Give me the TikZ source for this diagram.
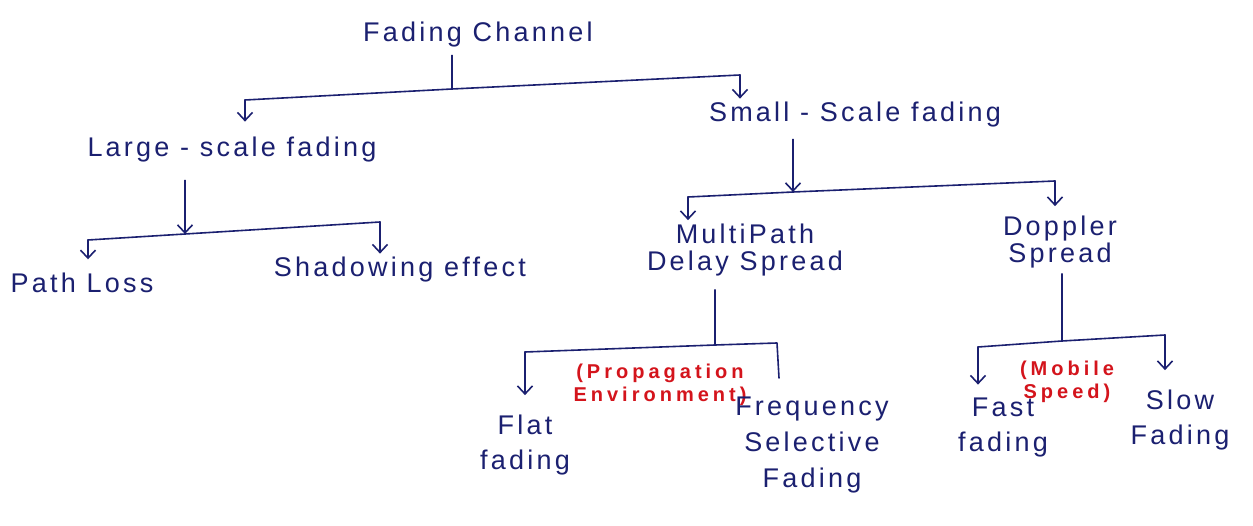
\documentclass[tikz,border=0pt]{standalone}
\usepackage{fontspec}
\setmainfont{Liberation Sans}
\newfontfamily\handfont[LetterSpace=12]{Liberation Sans}
\newfontfamily\notefont[LetterSpace=20]{Liberation Sans}
\usetikzlibrary{arrows.meta}
\definecolor{ink}{HTML}{1B2070}
\definecolor{redink}{HTML}{D4141C}
\begin{document}
\begin{tikzpicture}[x=1pt,y=-1pt,line width=1.6pt,draw=ink,
  lbl/.style={text=ink,font=\handfont\fontsize{27}{34}\selectfont,align=center,inner sep=3pt},
  note/.style={text=redink,font=\notefont\fontsize{20}{23}\selectfont\bfseries,align=center,inner sep=1pt},
  tip/.style={-{Straight Barb[length=8pt,width=15pt]},line cap=round},
  link/.style={line cap=round,line join=round}]
\useasboundingbox[fill=white] (0,0) rectangle (1253,526);

% nodes
\node[lbl] (fc)   at (478,35)  {Fading Channel};
\node[lbl] (lsf)  at (232,150) {Large - scale fading};
\node[lbl] (ssf)  at (855,115) {Small - Scale fading};
\node[lbl] (pl)   at (82,283)  {Path Loss};
\node[lbl] (sh)   at (400,270) {Shadowing effect};
\node[lbl,font=\handfont\fontsize{27}{27}\selectfont] (mp) at (745,250) {MultiPath\\Delay Spread};
\node[lbl,font=\handfont\fontsize{27}{27}\selectfont] (ds) at (1060,242) {Doppler\\Spread};
\node[note] (prop) at (660,385) {(Propagation\\Environment)};
\node[lbl,font=\handfont\fontsize{27}{35}\selectfont] (ff)   at (525,445) {Flat\\fading};
\node[lbl,font=\handfont\fontsize{27}{36}\selectfont] (fsf)  at (812,445) {Frequency\\Selective\\Fading};
\node[note] (ms) at (1067,382) {(Mobile\\Speed)};
\node[lbl,font=\handfont\fontsize{27}{35}\selectfont] (fast) at (1003,428) {Fast\\fading};
\node[lbl,font=\handfont\fontsize{27}{35}\selectfont] (slow) at (1180,420) {Slow\\Fading};

% junction coordinates
\coordinate (j1)  at (452,89);
\coordinate (b1L) at (245,100);
\coordinate (b1R) at (740,75);
\coordinate (j2)  at (185,234);
\coordinate (b2L) at (88,240);
\coordinate (b2R) at (380,222);
\coordinate (j3)  at (793,192);
\coordinate (b3L) at (688,197);
\coordinate (b3R) at (1055,181);
\coordinate (j4)  at (715,345);
\coordinate (b4L) at (525,352);
\coordinate (b4R) at (777,343);
\coordinate (b4E) at (779,378);
\coordinate (j5)  at (1062,341);
\coordinate (b5L) at (978,347);
\coordinate (b5R) at (1165,335);

% Fading channel
\draw[link,shorten <=4pt] (fc.south -| j1) -- (j1);
\draw[link] (b1L) -- (j1) -- (b1R);
\draw[tip,shorten >=12pt] (b1L) -- (b1L |- lsf.north);
\draw[tip] (b1R) -- (b1R |- ssf.north);

% Large-scale
\draw[tip,shorten <=14pt] (lsf.south -| j2) -- (j2);
\draw[link] (b2L) -- (j2) -- (b2R);
\draw[tip,shorten >=10pt] (b2L) -- (b2L |- pl.north);
\draw[tip] (b2R) -- (b2R |- sh.north);

% Small-scale
\draw[tip,shorten <=8pt] (ssf.south -| j3) -- (j3);
\draw[link] (b3L) -- (j3) -- (b3R);
\draw[tip] (b3L) -- (b3L |- mp.north);
\draw[tip,shorten >=6pt] (b3R) -- (b3R |- ds.north);

% Multipath delay spread
\draw[link,shorten <=10pt] (mp.south -| j4) -- (j4);
\draw[link] (b4L) -- (j4) -- (b4R) -- (b4E);
\draw[tip,shorten >=16pt] (b4L) -- (b4L |- ff.north);

% Doppler spread
\draw[link,shorten <=2pt] (ds.south -| j5) -- (j5);
\draw[link] (b5L) -- (j5) -- (b5R);
\draw[tip,shorten >=10pt] (b5L) -- (b5L |- fast.north);
\draw[tip,shorten >=16pt] (b5R) -- (b5R |- slow.north);
\end{tikzpicture}
\end{document}
